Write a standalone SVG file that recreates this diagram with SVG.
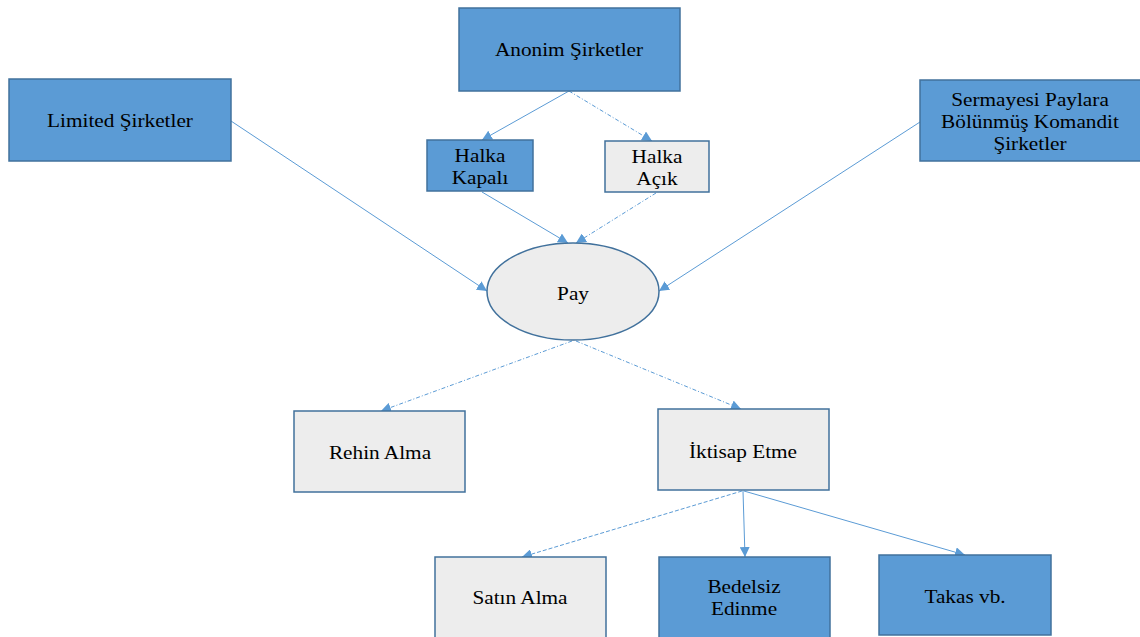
<svg xmlns="http://www.w3.org/2000/svg" width="1140" height="637" viewBox="0 0 1140 637">
<style>
.blue{fill:#5B9BD5;stroke:#41719C;stroke-width:1.5}
.gray{fill:#EDEDED;stroke:#41719C;stroke-width:1.5}
text{font-family:"Liberation Serif","Times New Roman",serif;font-size:19px;fill:#000;text-anchor:middle}
.c{stroke:#5B9BD5;stroke-width:1;fill:none;marker-end:url(#ah)}
.dd{stroke-dasharray:4 2 1 2}
.da{stroke-dasharray:4 2}
</style>
<defs>
<marker id="ah" viewBox="0 0 10 10" refX="10" refY="5" markerWidth="10" markerHeight="10" markerUnits="userSpaceOnUse" orient="auto">
<path d="M0,0 L10,5 L0,10 z" fill="#5B9BD5"/>
</marker>
</defs>
<g id="connectors">
<line class="c" x1="569" y1="91" x2="482" y2="140"/>
<line class="c dd" x1="569" y1="91" x2="652" y2="141"/>
<line class="c" x1="482" y1="192" x2="568" y2="243"/>
<line class="c dd" x1="656" y1="193" x2="576" y2="243"/>
<line class="c" x1="231" y1="121" x2="487" y2="291"/>
<line class="c" x1="920" y1="122" x2="659" y2="291"/>
<line class="c dd" x1="572" y1="341" x2="381" y2="411"/>
<line class="c dd" x1="576" y1="341" x2="741" y2="409"/>
<line class="c da" x1="742" y1="491" x2="522" y2="557"/>
<line class="c" x1="743" y1="491" x2="745" y2="557"/>
<line class="c" x1="744" y1="491" x2="965" y2="555"/>
</g>
<g id="anonim"><rect class="blue" x="459" y="8" width="221" height="83"/><text transform="translate(569,56) scale(1.12,1)">Anonim Şirketler</text></g>
<g id="limited"><rect class="blue" x="9" y="79" width="222" height="82"/><text transform="translate(120,127) scale(1.12,1)">Limited Şirketler</text></g>
<g id="sermayesi"><rect class="blue" x="920" y="80" width="222" height="81"/><text transform="translate(1030,106) scale(1.12,1)">Sermayesi Paylara</text><text transform="translate(1030,128) scale(1.12,1)">Bölünmüş Komandit</text><text transform="translate(1030,150) scale(1.12,1)">Şirketler</text></g>
<g id="kapali"><rect class="blue" x="427" y="140" width="106" height="51"/><text transform="translate(480,162) scale(1.12,1)">Halka</text><text transform="translate(480,184) scale(1.12,1)">Kapalı</text></g>
<g id="acik"><rect class="gray" x="605" y="141" width="104" height="51"/><text transform="translate(657,163) scale(1.12,1)">Halka</text><text transform="translate(657,185) scale(1.12,1)">Açık</text></g>
<g id="pay"><ellipse class="gray" cx="573" cy="291.5" rx="86" ry="48.5"/><text transform="translate(573,300) scale(1.12,1)">Pay</text></g>
<g id="rehin"><rect class="gray" x="294" y="411" width="171" height="81"/><text transform="translate(380,459) scale(1.12,1)">Rehin Alma</text></g>
<g id="iktisap"><rect class="gray" x="658" y="409" width="171" height="81"/><text transform="translate(743,458) scale(1.12,1)">İktisap Etme</text></g>
<g id="satin"><rect class="gray" x="435" y="557" width="171" height="82"/><text transform="translate(520,604) scale(1.12,1)">Satın Alma</text></g>
<g id="bedelsiz"><rect class="blue" x="659" y="557" width="171" height="82"/><text transform="translate(744,593) scale(1.12,1)">Bedelsiz</text><text transform="translate(744,615) scale(1.12,1)">Edinme</text></g>
<g id="takas"><rect class="blue" x="879" y="555" width="172" height="80"/><text transform="translate(965,603) scale(1.12,1)">Takas vb.</text></g>
</svg>
